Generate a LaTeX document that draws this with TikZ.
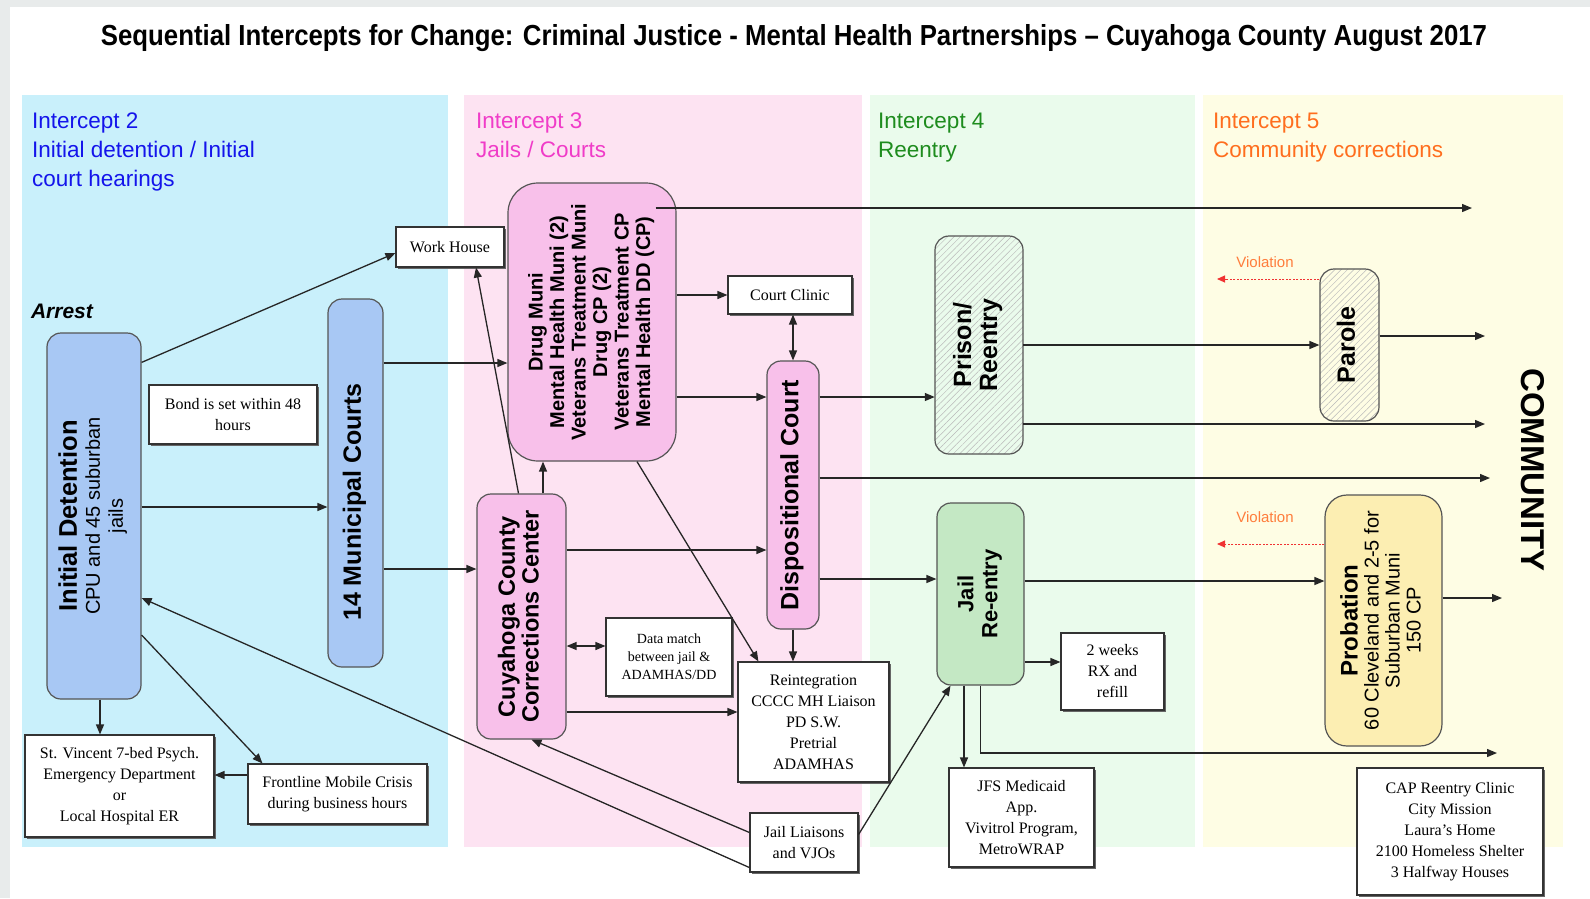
\documentclass[tikz,border=0pt]{standalone}
\usepackage{fontspec}
\setmainfont{Liberation Serif}
\setsansfont{Liberation Sans}
\usepackage{graphicx}
\usetikzlibrary{arrows.meta,patterns.meta,shadows}

\newcommand{\uptext}[1]{\rotatebox{90}{\begin{tabular}{@{}c@{}}#1\end{tabular}}}

\definecolor{framegray}{RGB}{232,235,235}
\definecolor{panelblue}{RGB}{201,240,251}
\definecolor{panelpink}{RGB}{253,227,242}
\definecolor{panelgreen}{RGB}{234,251,236}
\definecolor{panelyellow}{RGB}{254,253,228}
\definecolor{boxblue}{RGB}{168,200,244}
\definecolor{boxpink}{RGB}{248,192,234}
\definecolor{boxgreen}{RGB}{196,232,196}
\definecolor{boxyellow}{RGB}{252,238,178}
\definecolor{headblue}{RGB}{20,20,235}
\definecolor{headpink}{RGB}{240,60,200}
\definecolor{headgreen}{RGB}{30,140,30}
\definecolor{headorange}{RGB}{255,110,30}
\definecolor{edgegray}{RGB}{85,85,85}
\definecolor{violred}{RGB}{240,50,50}
\definecolor{violorange}{RGB}{255,125,60}

\begin{document}
\begin{tikzpicture}[x=1pt,y=-1pt,
	round_node/.style={draw=edgegray,line width=1.2pt,rounded corners=14pt,inner sep=0pt,font=\sffamily\bfseries\fontsize{24}{23}\selectfont},
	hatch_node/.style={round_node,pattern={Lines[angle=45,distance=4.5pt,line width=0.5pt]},pattern color=gray!55},
	text_node/.style={draw=black!80,line width=1.1pt,fill=white,inner sep=0pt,align=center,font=\fontsize{16}{21}\selectfont,drop shadow={shadow xshift=1.5pt,shadow yshift=-1.5pt,fill=black!60,opacity=1}},
	head_text/.style={anchor=north west,inner sep=0pt,align=left,font=\sffamily\fontsize{22.5}{29}\selectfont},
	flow/.style={-{Triangle[length=10pt,width=8pt]},line width=1.3pt,draw=black!85},
	both_flow/.style={flow,{Triangle[length=10pt,width=8pt]}-{Triangle[length=10pt,width=8pt]}},
	violation/.style={-{Triangle[length=8pt,width=7pt]},draw=violred,line width=1pt,dash pattern=on 2pt off 1.5pt},
	viol_text/.style={text=violorange,font=\sffamily\fontsize{15}{15}\selectfont,inner sep=0pt}]

	\useasboundingbox (0,0) rectangle (1590,898);
	\fill[framegray] (0,0) rectangle (1590,898);
	\fill[white] (10,7) rectangle (1590,898);
	\fill[panelblue] (22,95) rectangle (448,847);
	\fill[panelpink] (464,95) rectangle (862,847);
	\fill[panelgreen] (870,95) rectangle (1195,847);
	\fill[panelyellow] (1203,95) rectangle (1563,847);

	\node[inner sep=0pt,font=\sffamily\bfseries\fontsize{29}{29}\selectfont] (title) at (794,38) {\resizebox{1386pt}{\height}{Sequential Intercepts for Change: Criminal Justice - Mental Health Partnerships -- Cuyahoga County August 2017}};

	\node[head_text,text=headblue] (head2) at (32,113) {Intercept 2\\Initial detention / Initial\\court hearings};
	\node[head_text,text=headpink] (head3) at (476,113) {Intercept 3\\Jails / Courts};
	\node[head_text,text=headgreen] (head4) at (878,113) {Intercept 4\\Reentry};
	\node[head_text,text=headorange] (head5) at (1213,113) {Intercept 5\\Community corrections};

	\node[inner sep=0pt,font=\sffamily\bfseries\itshape\fontsize{21}{21}\selectfont] (arrest) at (62,311) {Arrest};
	\node[inner sep=0pt,font=\sffamily\bfseries\fontsize{33}{33}\selectfont] (community) at (1533,470) {\rotatebox{-90}{COMMUNITY}};

	\node[round_node,fill=boxblue,minimum width=94pt,minimum height=366pt] (detention) at (94,516) {\uptext{{\fontsize{25.5}{25}\selectfont Initial Detention}\\ \mdseries\fontsize{20}{22}\selectfont CPU and 45 suburban\\ \mdseries\fontsize{20}{22}\selectfont jails}};
	\node[round_node,fill=boxblue,minimum width=55pt,minimum height=368pt,font=\sffamily\bfseries\fontsize{25}{25}\selectfont] (courts) at (355.5,483) {\uptext{14 Municipal Courts\hspace*{38pt}}};
	\node[round_node,fill=boxpink,minimum width=168pt,minimum height=278pt,rounded corners=30pt,font=\sffamily\bfseries\fontsize{20}{21.5}\selectfont] (treat) at (592,322) {\uptext{Drug Muni\\Mental Health Muni (2)\\Veterans Treatment Muni\\Drug CP (2)\\Veterans Treatment CP\\Mental Health DD (CP)}};
	\node[round_node,fill=boxpink,minimum width=52pt,minimum height=268pt,font=\sffamily\bfseries\fontsize{25}{25}\selectfont] (disp) at (793,495) {\uptext{Dispositional Court}};
	\node[round_node,fill=boxpink,minimum width=89pt,minimum height=245pt,font=\sffamily\bfseries\fontsize{23.5}{22.5}\selectfont] (correct) at (521.5,616.5) {\uptext{Cuyahoga County\\Corrections Center}};
	\node[hatch_node,minimum width=88pt,minimum height=218pt,font=\sffamily\bfseries\fontsize{25}{26}\selectfont] (prison) at (979,345) {\uptext{Prison/\\Reentry}};
	\node[round_node,fill=boxgreen,minimum width=87pt,minimum height=182pt,font=\sffamily\bfseries\fontsize{22}{24}\selectfont] (jailre) at (980.5,594) {\uptext{Jail\\Re-entry}};
	\node[hatch_node,minimum width=59pt,minimum height=152pt,font=\sffamily\bfseries\fontsize{25}{25}\selectfont] (parole) at (1349.5,345) {\uptext{Parole}};
	\node[round_node,fill=boxyellow,minimum width=117pt,minimum height=251pt,rounded corners=22pt,font=\sffamily\bfseries\fontsize{20}{21}\selectfont] (probation) at (1383.5,620.5) {\uptext{{\fontsize{24}{24}\selectfont Probation}\\ \mdseries 60 Cleveland and 2-5 for\\ \mdseries Suburban Muni\\ \mdseries 150 CP}};

	\node[text_node,minimum width=108pt,minimum height=40pt] (workhouse) at (450,247) {Work House};
	\node[text_node,minimum width=168pt,minimum height=59pt] (bond) at (233,414.5) {Bond is set within 48\\hours};
	\node[text_node,minimum width=189pt,minimum height=102pt] (stvincent) at (119.5,786) {St. Vincent 7-bed Psych.\\Emergency Department\\or\\Local Hospital ER};
	\node[text_node,minimum width=179pt,minimum height=60pt] (frontline) at (337.5,794) {Frontline Mobile Crisis\\during business hours};
	\node[text_node,minimum width=124pt,minimum height=38pt] (clinic) at (790,295) {Court Clinic};
	\node[text_node,minimum width=126pt,minimum height=78pt,font=\fontsize{14}{18}\selectfont] (datamatch) at (669,657) {Data match\\between jail \&\\ADAMHAS/DD};
	\node[text_node,minimum width=151pt,minimum height=120pt] (reint) at (813.5,722) {Reintegration\\CCCC MH Liaison\\PD S.W.\\Pretrial\\ADAMHAS};
	\node[text_node,minimum width=108pt,minimum height=59pt] (liaison) at (804,842.5) {Jail Liaisons\\and VJOs};
	\node[text_node,minimum width=103pt,minimum height=77pt] (weeks) at (1112.5,671.5) {2 weeks\\RX and\\refill};
	\node[text_node,minimum width=145pt,minimum height=99pt] (jfs) at (1021.5,817.5) {JFS Medicaid\\App.\\Vivitrol Program,\\MetroWRAP};
	\node[text_node,minimum width=186pt,minimum height=127pt] (cap) at (1450,831.5) {CAP Reentry Clinic\\City Mission\\Laura’s Home\\2100 Homeless Shelter\\3 Halfway Houses};

	\node[viol_text] (viol_parole) at (1265,262) {Violation};
	\node[viol_text] (viol_probation) at (1265,517) {Violation};

	\coordinate (out_treat) at (1472,208);
	\coordinate (out_parole) at (1485,336);
	\coordinate (out_prison) at (1485,424);
	\coordinate (out_disp) at (1490,478);
	\coordinate (out_prob) at (1502,598);
	\coordinate (out_jail) at (1497,753);
	\coordinate (back_parole) at (1217,279);
	\coordinate (back_probation) at (1217,544);

	\draw[flow] ([yshift=-30pt]detention.north east) -- ([yshift=-6pt]workhouse.west);
	\draw[flow] ([yshift=9pt]detention.east) -- ([yshift=9pt]detention.east -| courts.west);
	\draw[flow] ([xshift=6pt]detention.south) -- ([xshift=6pt]detention.south |- stvincent.north);
	\draw[flow] ([yshift=-119pt]detention.east) -- ([xshift=-75pt]frontline.north);
	\draw[flow] ([yshift=19pt]frontline.west) -- ([yshift=19pt]frontline.west -| stvincent.east);
	\draw[flow] ([yshift=5pt]liaison.south west) -- ([yshift=-82pt]detention.east);
	\draw[flow] ([yshift=10pt]liaison.west) -- ([xshift=10pt]correct.south);
	\draw[flow] ([yshift=8pt]liaison.east) -- ([xshift=-30pt]jailre.south);
	\draw[flow] ([yshift=120pt]courts.east) -- ([yshift=120pt]courts.east -| treat.west);
	\draw[flow] ([yshift=-86pt]courts.east) -- ([yshift=-86pt]courts.east -| correct.west);
	\draw[flow] ([xshift=-3pt]correct.north) -- ([xshift=26pt]workhouse.south);
	\draw[flow] ([xshift=21.5pt]correct.north) -- ([xshift=21.5pt]correct.north |- treat.south);
	\draw[flow] ([xshift=-21pt]treat.east |- out_treat) -- (out_treat);
	\draw[flow] (treat.east |- clinic.west) -- (clinic.west);
	\draw[flow] ([yshift=-75pt]treat.east) -- ([yshift=-75pt]treat.east -| disp.west);
	\draw[flow] ([xshift=45pt]treat.south) -- ([xshift=21pt]reint.north west);
	\draw[both_flow] (disp.north |- clinic.south) -- (disp.north);
	\draw[flow] (disp.south) -- (disp.south |- reint.north);
	\draw[flow] ([yshift=66.5pt]correct.east) -- ([yshift=66.5pt]correct.east -| disp.west);
	\draw[both_flow] ([yshift=11pt]datamatch.west -| correct.east) -- ([yshift=11pt]datamatch.west);
	\draw[flow] ([yshift=10pt]reint.west -| correct.east) -- ([yshift=10pt]reint.west);
	\draw[flow] ([yshift=98pt]disp.east) -- ([yshift=98pt]disp.east -| prison.west);
	\draw[flow] (disp.east |- out_disp) -- (out_disp);
	\draw[flow] ([yshift=-84pt]disp.east) -- ([yshift=-84pt]disp.east -| jailre.west);
	\draw[flow] (prison.east) -- (prison.east -| parole.west);
	\draw[flow] (prison.east |- out_prison) -- (out_prison);
	\draw[flow] (parole.east |- out_parole) -- (out_parole);
	\draw[flow] ([yshift=13pt]jailre.east) -- ([yshift=13pt]jailre.east -| probation.west);
	\draw[flow] ([yshift=9.5pt]weeks.west -| jailre.east) -- ([yshift=9.5pt]weeks.west);
	\draw[flow] ([xshift=-16.5pt]jailre.south) -- ([xshift=-16.5pt]jailre.south |- jfs.north);
	\draw[flow] (jailre.south) |- (out_jail);
	\draw[flow] (probation.east |- out_prob) -- (out_prob);
	\draw[violation] (parole.west |- back_parole) -- (back_parole);
	\draw[violation] (probation.west |- back_probation) -- (back_probation);
\end{tikzpicture}
\end{document}
